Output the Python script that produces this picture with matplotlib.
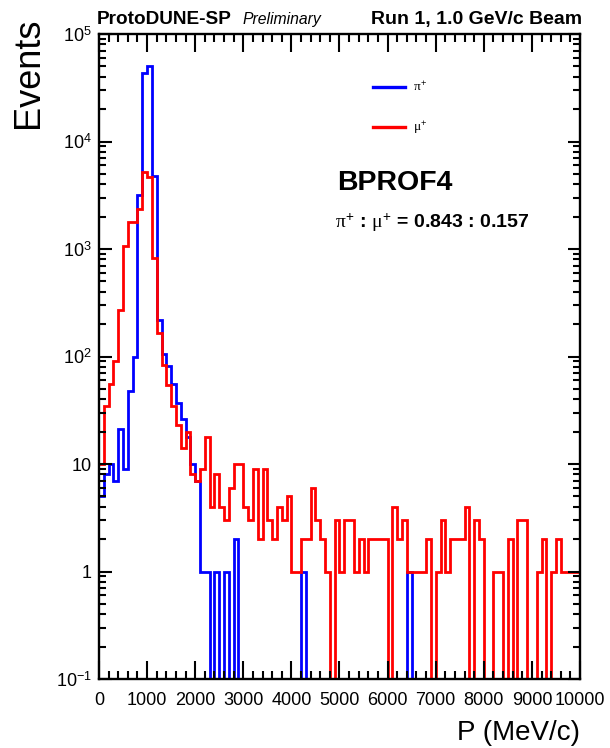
import numpy as np
import matplotlib
matplotlib.use("Agg")
import matplotlib.pyplot as plt
from matplotlib.lines import Line2D
from matplotlib.ticker import (FixedFormatter, FixedLocator, LogLocator,
                               MultipleLocator, NullFormatter)

# beam momentum spectrum, 100 MeV/c bins from 0 to 10 GeV/c
EDGES = np.linspace(0, 10000, 101)

PI_COUNTS = [5, 8, 10, 7, 21, 9, 48, 100, 3200, 43000,
             50000, 4800, 219, 105, 81, 55, 37, 26, 18, 10,
             7, 1, 1, 0, 1, 0, 1, 0, 2, 0,
             0, 0, 0, 0, 0, 0, 0, 0, 0, 0,
             0, 0, 1, 0, 0, 0, 0, 0, 0, 0,
             0, 0, 0, 0, 0, 0, 0, 0, 0, 0,
             0, 0, 0, 0, 1, 0, 0, 0, 0, 0,
             0, 0, 0, 0, 0, 0, 0, 0, 0, 0,
             0, 0, 0, 0, 0, 0, 0, 0, 0, 0,
             0, 0, 0, 0, 0, 0, 0, 0, 0, 0]

MU_COUNTS = [10, 35, 55, 91, 270, 1070, 1800, 1800, 2350, 5200,
             4700, 820, 164, 83, 54, 35, 23, 14, 20, 8,
             7, 9, 18, 4, 8, 4, 3, 6, 10, 10,
             4, 3, 9, 2, 9, 3, 2, 4, 3, 5,
             1, 1, 2, 2, 6, 3, 2, 1, 0, 3,
             1, 3, 3, 1, 2, 1, 2, 2, 2, 2,
             0, 4, 2, 3, 1, 1, 1, 1, 2, 0,
             1, 3, 1, 2, 2, 2, 4, 0, 3, 2,
             0, 0, 1, 1, 0, 2, 0, 3, 3, 0,
             0, 1, 2, 0, 1, 2, 1, 1, 1, 1]

Y_TICKS = [0.1, 1, 10, 100, 1e3, 1e4, 1e5]
Y_TICK_LABELS = [r"$10^{-1}$", "1", "10", r"$10^{2}$", r"$10^{3}$",
                 r"$10^{4}$", r"$10^{5}$"]

plt.rcParams["font.family"] = ["Liberation Sans", "DejaVu Sans"]
plt.rcParams["mathtext.fontset"] = "custom"
plt.rcParams["mathtext.rm"] = "Liberation Sans"
plt.rcParams["mathtext.it"] = "Liberation Serif"
plt.rcParams["mathtext.bf"] = "Liberation Sans:bold"

BLUE = "#0000ff"
RED = "#ff0000"

fig = plt.figure(figsize=(6.1, 7.48), dpi=100)
ax = fig.add_axes([0.1623, 0.0922, 0.7885, 0.8623])

pi = np.asarray(PI_COUNTS, dtype=float)
mu = np.asarray(MU_COUNTS, dtype=float)
# empty bins drop to the bottom of the frame, as ROOT does on log scale
ax.stairs(np.where(pi > 0, pi, 1e-3), EDGES, color=BLUE, lw=2.0,
          baseline=None)
ax.stairs(np.where(mu > 0, mu, 1e-3), EDGES, color=RED, lw=2.0,
          baseline=None)

ax.set_xlim(0, 10000)
ax.set_yscale("log")
ax.set_ylim(0.1, 1e5)

ax.xaxis.set_major_locator(MultipleLocator(1000))
ax.xaxis.set_minor_locator(MultipleLocator(200))
ax.yaxis.set_major_locator(FixedLocator(Y_TICKS))
ax.yaxis.set_major_formatter(FixedFormatter(Y_TICK_LABELS))
ax.yaxis.set_minor_locator(LogLocator(base=10, subs=range(2, 10), numticks=20))
ax.yaxis.set_minor_formatter(NullFormatter())

ax.tick_params(which="both", direction="in", top=True, right=True,
               width=1.5, labelsize=13)
ax.tick_params(axis="x", which="major", length=13, pad=9)
ax.tick_params(axis="x", which="minor", length=6)
ax.tick_params(axis="y", which="major", length=9, pad=5)
ax.tick_params(axis="y", which="minor", length=5)
for sp in ax.spines.values():
    sp.set_linewidth(1.7)

handles = [Line2D([], [], color=BLUE, lw=2.4),
           Line2D([], [], color=RED, lw=2.4)]
ax.legend(handles, [r"$\pi^{+}$", r"$\mu^{+}$"], loc="upper left",
          bbox_to_anchor=(0.612, 0.893), bbox_transform=fig.transFigure,
          frameon=False, fontsize=9.5, handlelength=2.4, handletextpad=0.6,
          labelspacing=1.9, borderpad=0, borderaxespad=0)

fig.text(0.552, 0.746, "BPROF4", fontsize=20.5, fontweight="bold")
fig.text(0.549, 0.695, r"$\pi^{+}$ : $\mu^{+}$ = 0.843 : 0.157",
         fontsize=14, fontweight="bold")

fig.text(0.159, 0.968, "ProtoDUNE-SP", fontsize=13.7, fontweight="bold")
fig.text(0.398, 0.968, "Preliminary", fontsize=11.3, style="italic")
fig.text(0.954, 0.968, "Run 1, 1.0 GeV/c Beam", fontsize=14,
         fontweight="bold", ha="right")

fig.text(0.046, 0.976, "Events", fontsize=26, rotation=90,
         ha="center", va="top")
fig.text(0.951, 0.02, "P (MeV/c)", fontsize=20, ha="right", va="center")

fig.savefig("out.png", dpi=100)
